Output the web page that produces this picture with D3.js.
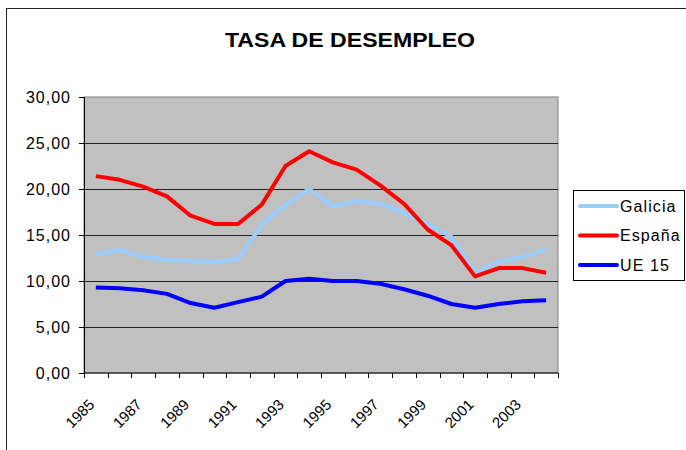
<!DOCTYPE html>
<html>
<head>
<meta charset="utf-8">
<script src="https://cdn.jsdelivr.net/npm/d3@7"></script>
<style>
  body { margin: 0; background: #fff; }
  text { font-family: "Liberation Sans", Arial, sans-serif; }
</style>
</head>
<body>
<svg width="686" height="450"></svg>
<script>
var years = d3.range(1985, 2005);
var galicia = [12.9, 13.4, 12.6, 12.3, 12.2, 12.1, 12.4, 16.1, 18.3, 20.0, 18.1, 18.7, 18.4, 17.4, 16.2, 14.8, 10.9, 12.1, 12.6, 13.5];
var espana = [21.4, 21.0, 20.25, 19.2, 17.1, 16.2, 16.2, 18.3, 22.5, 24.1, 22.9, 22.1, 20.4, 18.4, 15.6, 13.9, 10.5, 11.4, 11.4, 10.9];
var ue15 = [9.3, 9.2, 9.0, 8.6, 7.6, 7.1, 7.7, 8.3, 10.0, 10.25, 10.0, 10.0, 9.7, 9.1, 8.4, 7.5, 7.1, 7.5, 7.8, 7.9];
var yTicks = [0, 5, 10, 15, 20, 25, 30];
var seriesNames = ["Galicia", "España", "UE 15"];
var seriesColors = ["#99ccff", "#ff0000", "#0000ff"];

var svg = d3.select("svg"),
    margin = {top: 97, right: 128, bottom: 77, left: 84},
    width = 686 - margin.left - margin.right,
    height = 450 - margin.top - margin.bottom;

// outer chart frame (runs off the right and bottom edges)
svg.append("rect")
    .attr("x", 6.5).attr("y", 8.5)
    .attr("width", 700).attr("height", 460)
    .attr("fill", "none").attr("stroke", "#222").attr("stroke-width", 1);

// title is a bit wider than the font, so stretch it like the original
svg.append("text")
    .attr("transform", "translate(350,47) scale(1.1,1)")
    .attr("text-anchor", "middle")
    .style("font-size", "21px").style("font-weight", "bold")
    .text("TASA DE DESEMPLEO");

var x = d3.scaleBand().domain(years).range([0, width]),
    y = d3.scaleLinear().domain([0, 30]).range([height, 0]);

var g = svg.append("g")
    .attr("transform", "translate(" + margin.left + "," + margin.top + ")");

g.append("rect")
    .attr("width", width).attr("height", height)
    .attr("fill", "#c0c0c0").attr("stroke", "#808080");

g.selectAll(".grid")
    .data(yTicks.slice(1, -1))
    .enter().append("line")
      .attr("x1", 0).attr("x2", width)
      .attr("y1", function(d) { return Math.round(y(d)) + 0.5; })
      .attr("y2", function(d) { return Math.round(y(d)) + 0.5; })
      .attr("stroke", "#222");

var fmt = function(d) { return d3.format(".2f")(d).replace(".", ","); };

var yAxis = g.append("g")
    .call(d3.axisLeft(y).tickValues(yTicks).tickFormat(fmt).tickSize(5).tickPadding(8));
yAxis.select(".domain").attr("stroke", "#000");
yAxis.selectAll("text")
    .style("font-size", "16px").style("letter-spacing", "1px")
    .attr("fill", "#000");

// category axis: ticks between categories
var xAxis = g.append("g").attr("transform", "translate(0," + height + ")");
xAxis.append("line").attr("x1", 0).attr("x2", width).attr("stroke", "#000");
xAxis.selectAll(".tk")
    .data(d3.range(years.length + 1))
    .enter().append("line")
      .attr("x1", function(i) { return Math.round(i * x.step()) + 0.5; })
      .attr("x2", function(i) { return Math.round(i * x.step()) + 0.5; })
      .attr("y1", 0).attr("y2", 5)
      .attr("stroke", "#000");
xAxis.selectAll(".lbl")
    .data(years.filter(function(d, i) { return i % 2 === 0; }))
    .enter().append("text")
      .attr("transform", function(d) {
        return "translate(" + (x(d) + x.bandwidth() / 2 - 0.5) + ",32.5) rotate(-45)";
      })
      .attr("text-anchor", "end")
      .style("font-size", "15px")
      .text(function(d) { return d; });

var line = d3.line()
    .x(function(d, i) { return x(years[i]) + x.bandwidth() / 2; })
    .y(function(d) { return y(d); });

[galicia, espana, ue15].forEach(function(s, i) {
  g.append("path")
      .datum(s)
      .attr("d", line)
      .attr("fill", "none")
      .attr("stroke", seriesColors[i])
      .attr("stroke-width", 4)
      .attr("stroke-linejoin", "round");
});

// legend
var lg = svg.append("g").attr("transform", "translate(573,190)");
lg.append("rect")
    .attr("x", 0.5).attr("y", 0.5).attr("width", 111).attr("height", 90)
    .attr("fill", "#fff").attr("stroke", "#000");
seriesNames.forEach(function(name, i) {
  var yy = 16 + i * 29.5;
  lg.append("line")
      .attr("x1", 7).attr("x2", 44).attr("y1", yy).attr("y2", yy)
      .attr("stroke", seriesColors[i]).attr("stroke-width", 4).attr("stroke-linecap", "round");
  lg.append("text")
      .attr("x", 47).attr("y", yy).attr("dy", "0.35em")
      .style("font-size", "16px").style("letter-spacing", "1.1px")
      .text(name);
});
</script>
</body>
</html>
